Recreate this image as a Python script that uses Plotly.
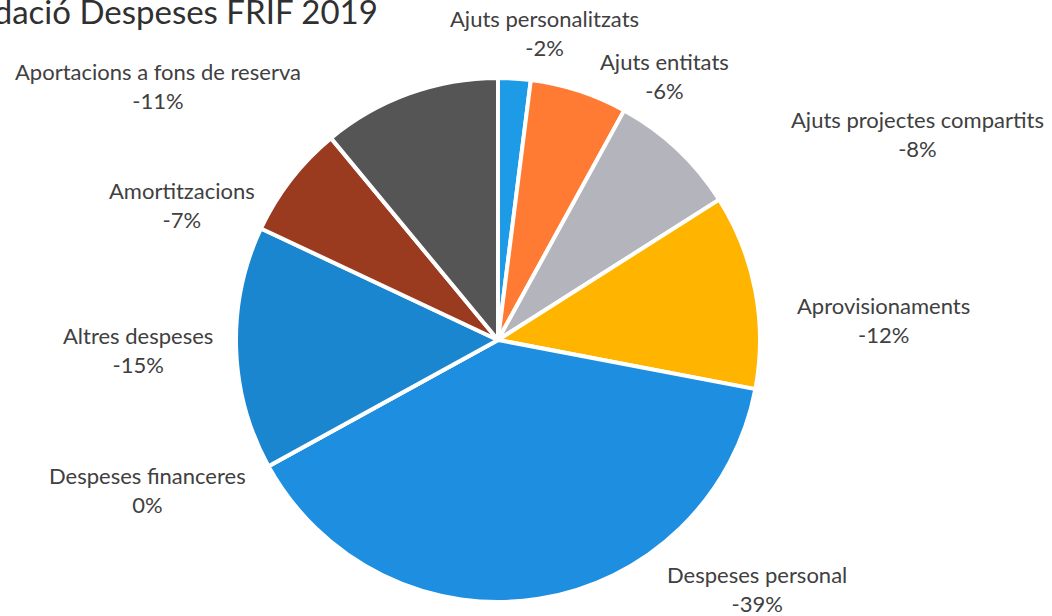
import plotly.graph_objects as go

categories = [
    "Ajuts personalitzats",
    "Ajuts entitats",
    "Ajuts projectes compartits",
    "Aprovisionaments",
    "Despeses personal",
    "Despeses financeres",
    "Altres despeses",
    "Amortitzacions",
    "Aportacions a fons de reserva",
]
values = [2, 6, 8, 12, 39, 0, 15, 7, 11]
value_labels = ["-2%", "-6%", "-8%", "-12%", "-39%", "0%", "-15%", "-7%", "-11%"]
colors = ["#1e9be6", "#ff7a33", "#b4b4bc", "#ffb400", "#1e8fe0",
          "#8c8c8c", "#1a86d0", "#9a3a1e", "#555555"]

# label block centres in pixels (layout only)
label_pos = [(544, 33), (664, 76), (917, 134), (883, 320), (757, 589),
             (147, 490), (138, 350), (182, 205), (158, 86)]

W, H = 1052, 616
cx, cy, r = 498, 340, 262

fig = go.Figure(go.Pie(
    labels=categories,
    values=values,
    sort=False,
    direction="clockwise",
    rotation=0,
    textinfo="none",
    hoverinfo="label+value",
    marker=dict(colors=colors, line=dict(color="white", width=4)),
    domain=dict(x=[(cx - r) / W, (cx + r) / W],
                y=[(H - cy - r) / H, (H - cy + r) / H]),
    showlegend=False,
))

annotations = []
for name, lab, (px, py) in zip(categories, value_labels, label_pos):
    annotations.append(dict(
        text=f"{name}<br>{lab}", x=px / W, y=1 - py / H,
        xref="paper", yref="paper", xanchor="center", yanchor="middle",
        showarrow=False, align="center",
        font=dict(family="Lato", size=22, color="#404040"),
    ))

annotations.append(dict(
    text="Liquidació Despeses FRIF 2019", x=380 / W, y=1 - 33 / H,
    xref="paper", yref="paper", xanchor="right", yanchor="bottom",
    showarrow=False, font=dict(family="Lato", size=33, color="#303030"),
))

fig.update_layout(
    width=W, height=H,
    margin=dict(l=0, r=0, t=0, b=0),
    paper_bgcolor="white",
    plot_bgcolor="white",
    annotations=annotations,
)

fig.write_html(
    "out.html",
    config={"displayModeBar": False},
    post_script="document.body.style.margin='0';document.body.style.overflow='hidden';",
)
